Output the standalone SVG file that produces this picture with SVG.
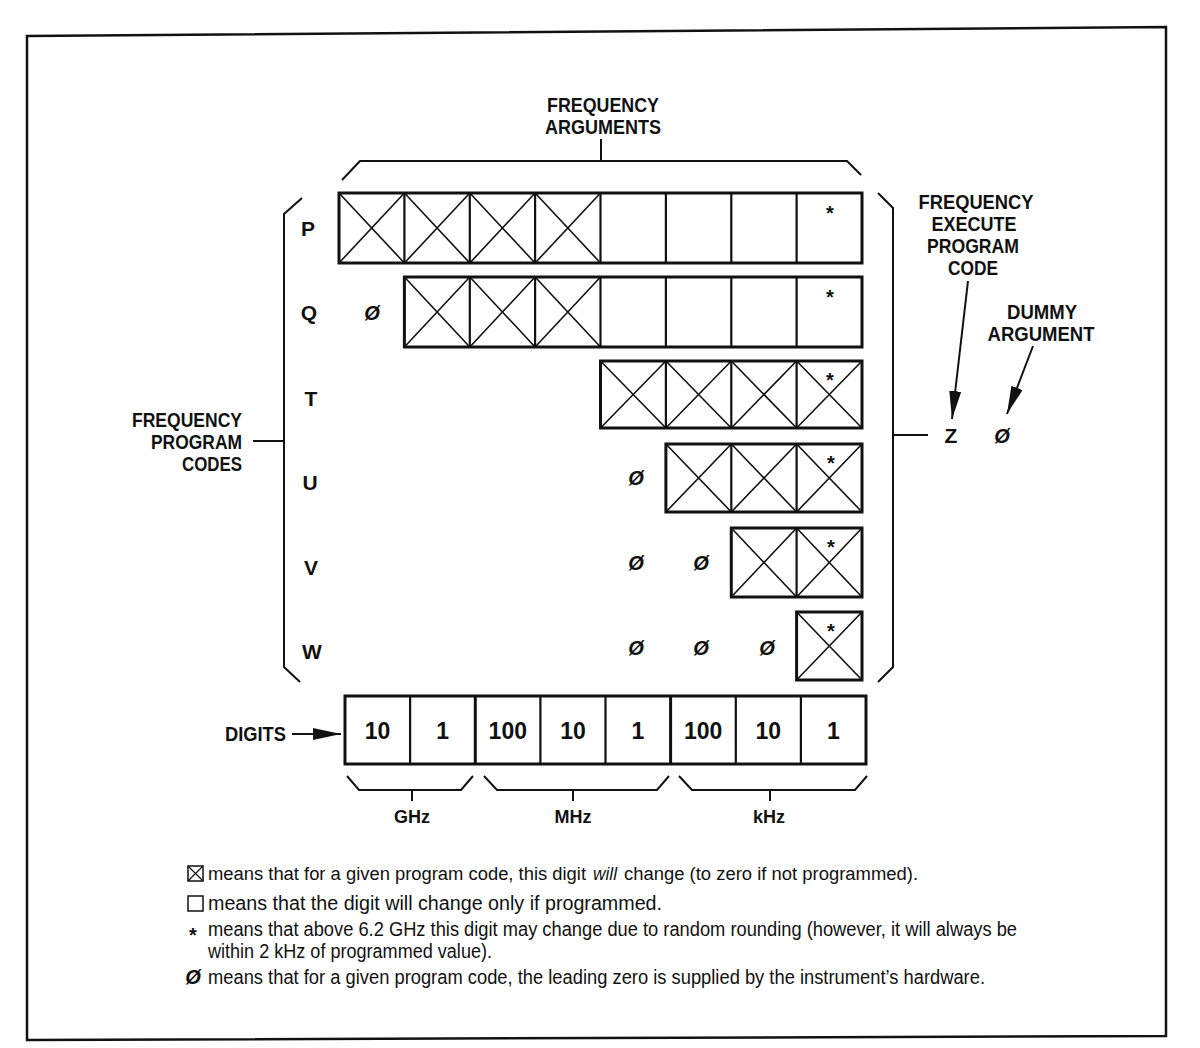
<svg xmlns="http://www.w3.org/2000/svg" width="1200" height="1048" viewBox="0 0 1200 1048">
<style>
.t{font-family:"Liberation Sans",Arial,sans-serif;font-weight:bold;font-size:20px;fill:#111}
.lbl{font-family:"Liberation Sans",Arial,sans-serif;font-weight:bold;font-size:21px;fill:#111;text-anchor:middle}
.z{font-family:"Liberation Sans",Arial,sans-serif;font-weight:bold;font-style:italic;font-size:20px;fill:#111;text-anchor:middle}
.ast{font-family:"Liberation Sans",Arial,sans-serif;font-weight:bold;font-size:20px;fill:#111;text-anchor:middle}
.dg{font-family:"Liberation Sans",Arial,sans-serif;font-weight:bold;font-size:23px;fill:#111;text-anchor:middle}
.unit{font-family:"Liberation Sans",Arial,sans-serif;font-weight:bold;font-size:18px;fill:#111;text-anchor:middle}
.lg{font-family:"Liberation Sans",Arial,sans-serif;font-size:20px;fill:#111}
.lg1{font-family:"Liberation Sans",Arial,sans-serif;font-size:18px;fill:#111}
.box{fill:none;stroke:#111;stroke-width:3}
.div{fill:none;stroke:#111;stroke-width:2.2}
.x{fill:none;stroke:#111;stroke-width:1.6}
.ln{fill:none;stroke:#111;stroke-width:2}
.mid{text-anchor:middle}
.end{text-anchor:end}
</style>
<defs>
<marker id="ah" markerUnits="userSpaceOnUse" markerWidth="28" markerHeight="12" refX="28" refY="6" orient="auto">
<path d="M0,0 L28,6 L0,12 z" fill="#111"/>
</marker>
</defs>
<rect x="0" y="0" width="1200" height="1048" fill="#fff"/>
<polygon points="27,36 1166,27 1166,1036 27,1040" fill="none" stroke="#111" stroke-width="2.5"/>

<g id="freq-arguments">
<text class="t mid" x="603" y="112" textLength="112" lengthAdjust="spacingAndGlyphs">FREQUENCY</text>
<text class="t mid" x="603" y="134" textLength="116" lengthAdjust="spacingAndGlyphs">ARGUMENTS</text>
</g>

<g id="row-P">
<text class="lbl" x="308" y="236">P</text>
<rect class="box" x="339" y="193" width="523" height="70"/>
<path class="div" d="M404.4 193V263M469.8 193V263M535.1 193V263M600.5 193V263M665.9 193V263M731.3 193V263M796.6 193V263"/>
<path class="x" d="M339 193L404.4 263M339 263L404.4 193M404.4 193L469.8 263M404.4 263L469.8 193M469.8 193L535.1 263M469.8 263L535.1 193M535.1 193L600.5 263M535.1 263L600.5 193"/>
<text class="ast" x="830" y="220">*</text>
</g>

<g id="row-Q">
<text class="lbl" x="309" y="320">Q</text>
<text class="z" x="372" y="320">Ø</text>
<rect class="box" x="404.4" y="277" width="457.6" height="70"/>
<path class="div" d="M469.8 277V347M535.1 277V347M600.5 277V347M665.9 277V347M731.3 277V347M796.6 277V347"/>
<path class="x" d="M404.4 277L469.8 347M404.4 347L469.8 277M469.8 277L535.1 347M469.8 347L535.1 277M535.1 277L600.5 347M535.1 347L600.5 277"/>
<text class="ast" x="830" y="304">*</text>
</g>

<g id="row-T">
<text class="lbl" x="311" y="406">T</text>
<rect class="box" x="600.5" y="361" width="261.5" height="67"/>
<path class="div" d="M665.9 361V428M731.3 361V428M796.6 361V428"/>
<path class="x" d="M600.5 361L665.9 428M600.5 428L665.9 361M665.9 361L731.3 428M665.9 428L731.3 361M731.3 361L796.6 428M731.3 428L796.6 361M796.6 361L862 428M796.6 428L862 361"/>
<text class="ast" x="830" y="387">*</text>
</g>

<g id="row-U">
<text class="lbl" x="310" y="490">U</text>
<text class="z" x="636" y="485">Ø</text>
<rect class="box" x="665.9" y="444" width="196.1" height="68"/>
<path class="div" d="M731.3 444V512M796.6 444V512"/>
<path class="x" d="M665.9 444L731.3 512M665.9 512L731.3 444M731.3 444L796.6 512M731.3 512L796.6 444M796.6 444L862 512M796.6 512L862 444"/>
<text class="ast" x="831" y="470">*</text>
</g>

<g id="row-V">
<text class="lbl" x="311" y="575">V</text>
<text class="z" x="636" y="570">Ø</text>
<text class="z" x="701" y="570">Ø</text>
<rect class="box" x="731.3" y="528" width="130.7" height="69"/>
<path class="div" d="M796.6 528V597"/>
<path class="x" d="M731.3 528L796.6 597M731.3 597L796.6 528M796.6 528L862 597M796.6 597L862 528"/>
<text class="ast" x="831" y="554">*</text>
</g>

<g id="row-W">
<text class="lbl" x="312" y="659">W</text>
<text class="z" x="636" y="655">Ø</text>
<text class="z" x="701" y="655">Ø</text>
<text class="z" x="767" y="655">Ø</text>
<rect class="box" x="796.6" y="612" width="65.4" height="68"/>
<path class="x" d="M796.6 612L862 680M796.6 680L862 612"/>
<text class="ast" x="831" y="638">*</text>
</g>

<g id="freq-program-codes">
<text class="t end" x="242" y="427" textLength="110" lengthAdjust="spacingAndGlyphs">FREQUENCY</text>
<text class="t end" x="242" y="449" textLength="91" lengthAdjust="spacingAndGlyphs">PROGRAM</text>
<text class="t end" x="242" y="471" textLength="60" lengthAdjust="spacingAndGlyphs">CODES</text>
</g>

<g id="freq-execute">
<text class="t mid" x="976" y="209" textLength="115" lengthAdjust="spacingAndGlyphs">FREQUENCY</text>
<text class="t mid" x="974" y="231" textLength="85" lengthAdjust="spacingAndGlyphs">EXECUTE</text>
<text class="t mid" x="973" y="253" textLength="92" lengthAdjust="spacingAndGlyphs">PROGRAM</text>
<text class="t mid" x="973" y="275" textLength="50" lengthAdjust="spacingAndGlyphs">CODE</text>
</g>

<g id="dummy-argument">
<text class="t mid" x="1042" y="319" textLength="70" lengthAdjust="spacingAndGlyphs">DUMMY</text>
<text class="t mid" x="1041" y="341" textLength="107" lengthAdjust="spacingAndGlyphs">ARGUMENT</text>
</g>

<g id="Z-code">
<text class="lbl" x="951" y="443">Z</text>
<text class="z" x="1002" y="443">Ø</text>
</g>

<g id="digits-row">
<text class="t end" x="286" y="741" textLength="61" lengthAdjust="spacingAndGlyphs">DIGITS</text>
<rect class="box" x="345" y="696" width="521" height="68"/>
<path class="div" d="M410.1 696V764M540.4 696V764M605.5 696V764M735.8 696V764M800.9 696V764"/>
<path class="box" d="M475.3 696V764M670.6 696V764"/>
<text class="dg" x="377.6" y="739">10</text>
<text class="dg" x="442.7" y="739">1</text>
<text class="dg" x="507.8" y="739">100</text>
<text class="dg" x="573" y="739">10</text>
<text class="dg" x="638" y="739">1</text>
<text class="dg" x="703.2" y="739">100</text>
<text class="dg" x="768.3" y="739">10</text>
<text class="dg" x="833.4" y="739">1</text>
</g>

<g id="units">
<text class="unit" x="412" y="823">GHz</text>
<text class="unit" x="573" y="823">MHz</text>
<text class="unit" x="769" y="823">kHz</text>
</g>

<g id="connectors">
<path class="ln" d="M342 180L360 161L847 161L861 175M601 161V139"/>
<path class="ln" d="M302 198L284 214V667L300 682M284 441H253"/>
<path class="ln" d="M878 193L893 208V667L878 682M893 435H928"/>
<line class="ln" x1="968" y1="281" x2="952" y2="419" marker-end="url(#ah)"/>
<line class="ln" x1="1033" y1="346" x2="1007" y2="414" marker-end="url(#ah)"/>
<line class="ln" x1="292" y1="734" x2="341" y2="734" marker-end="url(#ah)"/>
<path class="ln" d="M347 776L359 790L461 790L473 776M412 790V801"/>
<path class="ln" d="M484 776L497 790L657 790L669 776M573 790V801"/>
<path class="ln" d="M679 776L692 790L855 790L867 776M770 790V801"/>
</g>

<g id="legend">
<rect x="188" y="866" width="15" height="15" fill="none" stroke="#111" stroke-width="1.5"/>
<path d="M188 866L203 881M188 881L203 866" stroke="#111" stroke-width="1.2"/>
<text class="lg1" x="208" y="880" textLength="378" lengthAdjust="spacingAndGlyphs">means that for a given program code, this digit</text>
<text class="lg1" x="593" y="880" font-style="italic" textLength="24" lengthAdjust="spacingAndGlyphs">will</text>
<text class="lg1" x="624" y="880" textLength="294" lengthAdjust="spacingAndGlyphs">change (to zero if not programmed).</text>
<rect x="188" y="896" width="15" height="15" fill="none" stroke="#111" stroke-width="1.5"/>
<text class="lg" x="208" y="910" textLength="454" lengthAdjust="spacingAndGlyphs">means that the digit will change only if programmed.</text>
<text class="ast" x="193" y="942" font-size="16">*</text>
<text class="lg" x="208" y="936" textLength="809" lengthAdjust="spacingAndGlyphs">means that above 6.2 GHz this digit may change due to random rounding (however, it will always be</text>
<text class="lg" x="208" y="958" textLength="284" lengthAdjust="spacingAndGlyphs">within 2 kHz of programmed value).</text>
<text class="z" x="193" y="984" font-size="16">Ø</text>
<text class="lg" x="208" y="984" textLength="777" lengthAdjust="spacingAndGlyphs">means that for a given program code, the leading zero is supplied by the instrument’s hardware.</text>
</g>
</svg>
